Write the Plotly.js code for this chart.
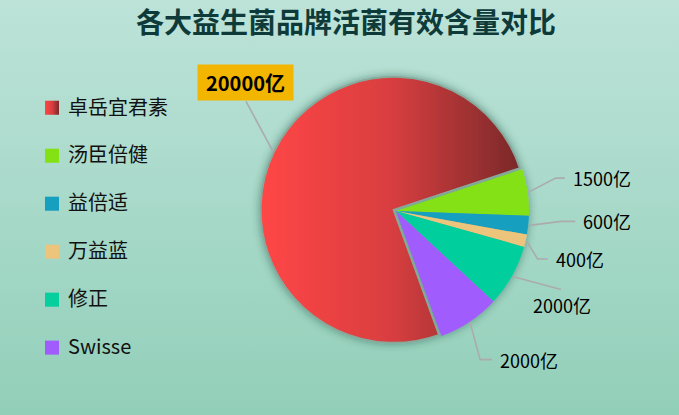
<!DOCTYPE html>
<html><head><meta charset="utf-8">
<script src="https://cdn.plot.ly/plotly-3.0.1.min.js"></script>
<style>
html,body{margin:0;padding:0;}
body{width:679px;height:415px;background:linear-gradient(to bottom,#bde3d9,#92cfb9);overflow:hidden;}
#chart{width:679px;height:415px;}
</style></head><body><div id="chart"></div>
<script>
// ---- data ----
var chartTitle = '各大益生菌品牌活菌有效含量对比';
var brands = ['卓岳宜君素', '汤臣倍健', '益倍适', '万益蓝', '修正', 'Swisse'];
var counts = [20000, 1500, 600, 400, 2000, 2000];
var unit = '亿';
var sliceColors = ['#e23f40', '#84e114', '#169fbf', '#ecc47c', '#04cf9d', '#a05cfd'];

// ---- layout constants (pixels) ----
var W = 679, H = 415;
var cx = 396, cy = 211, R = 133, pullFirst = 0.02, rotation = 160;
var boxHalf = R * (1 + pullFirst);
var FONT = '"Noto Sans CJK SC", "Noto Sans", sans-serif';
// label leader layout relative to slice anchor: bend offset, horizontal run, text placement
var labelLayout = [
  {bend: [-27, -50], h: 0, mode: 'box'},
  {bend: [27, -14], h: 9, mode: 'right'},
  {bend: [32, -4], h: 14, mode: 'right'},
  {bend: [11, 18], h: 10, mode: 'right'},
  {bend: [48, 13], h: 0, mode: 'below'},
  {bend: [10, 37], h: 12, mode: 'right'}
];

function px(x) { return x / W; }
function py(y) { return 1 - y / H; }

var total = counts.reduce(function (a, b) { return a + b; }, 0);
var shapes = [], annotations = [];
var start = rotation;
counts.forEach(function (v, i) {
  var span = v / total * 360;
  var mid = (start + span / 2) * Math.PI / 180;
  start += span;
  var sx = Math.sin(mid), sy = -Math.cos(mid);
  var pull = i === 0 ? pullFirst * R : 0;
  var ax = cx + (R + pull + 1) * sx, ay = cy + (R + pull + 1) * sy;
  var L = labelLayout[i];
  var bx = ax + L.bend[0], by = ay + L.bend[1];
  var ex = bx + L.h, ey = by;
  shapes.push({
    type: 'path', xref: 'paper', yref: 'paper',
    path: 'M' + px(ax) + ',' + py(ay) + ' L' + px(bx) + ',' + py(by) + ' L' + px(ex) + ',' + py(ey),
    line: {color: '#ababab', width: 1.6}
  });
  var txt = v + unit;
  if (L.mode === 'box') {
    annotations.push({
      xref: 'paper', yref: 'paper', x: px(ex - 1), y: py(ey), xanchor: 'center', yanchor: 'bottom',
      text: '<b>' + txt + '</b>', showarrow: false, bgcolor: '#f2b500', borderpad: 3, width: 89,
      font: {family: FONT, size: 20, color: '#000'}
    });
  } else if (L.mode === 'below') {
    annotations.push({
      xref: 'paper', yref: 'paper', x: px(ex + 1), y: py(ey + 16), xanchor: 'center', yanchor: 'middle',
      text: txt, showarrow: false, font: {family: FONT, size: 18, color: '#000'}
    });
  } else {
    annotations.push({
      xref: 'paper', yref: 'paper', x: px(ex + 6), y: py(ey), xanchor: 'left', yanchor: 'middle',
      text: txt, showarrow: false, font: {family: FONT, size: 18, color: '#000'}
    });
  }
});

var legendLabels = brands.map(function (b) {
  return '<span style="font-size:20px">' + b + '</span><br>&nbsp;';
});

var data = [{
  type: 'pie',
  labels: legendLabels,
  values: counts,
  sort: false,
  direction: 'clockwise',
  rotation: rotation,
  pull: counts.map(function (v, i) { return i === 0 ? pullFirst : 0; }),
  marker: {
    colors: sliceColors,
    line: {color: counts.map(function () { return '#86a99b'; }), width: counts.map(function (v, i) { return i === 0 ? 2 : 0; })}
  },
  textinfo: 'none',
  hoverinfo: 'none',
  domain: {x: [px(cx - boxHalf), px(cx + boxHalf)], y: [py(cy + boxHalf), py(cy - boxHalf)]}
}];

var layout = {
  width: W, height: H,
  margin: {l: 0, r: 0, t: 0, b: 0},
  paper_bgcolor: 'rgba(0,0,0,0)',
  plot_bgcolor: 'rgba(0,0,0,0)',
  title: {
    text: chartTitle, x: 346 / W, xref: 'container', xanchor: 'center',
    y: 1 - 23 / H, yref: 'container', yanchor: 'middle',
    font: {family: FONT, size: 28, weight: 'bold', color: '#0e3b3a'}
  },
  showlegend: true,
  legend: {
    x: 28 / W, xanchor: 'left', y: py(90), yanchor: 'top',
    font: {family: FONT, size: 17.3, color: '#111'},
    bgcolor: 'rgba(0,0,0,0)', valign: 'top', traceorder: 'normal'
  },
  shapes: shapes,
  annotations: annotations
};

Plotly.newPlot('chart', data, layout, {staticPlot: true, displayModeBar: false}).then(function (gd) {
  var ns = 'http://www.w3.org/2000/svg';
  var svg = gd.querySelector('svg.main-svg');
  var defs = svg.querySelector('defs') || svg.insertBefore(document.createElementNS(ns, 'defs'), svg.firstChild);
  var lg = document.createElementNS(ns, 'linearGradient');
  lg.setAttribute('id', 'redGrad');
  lg.setAttribute('x1', '0'); lg.setAttribute('y1', '0'); lg.setAttribute('x2', '1'); lg.setAttribute('y2', '0');
  [['0', '#ff4646'], ['0.5', '#d93e40'], ['1', '#7a2929']].forEach(function (s) {
    var st = document.createElementNS(ns, 'stop');
    st.setAttribute('offset', s[0]); st.setAttribute('stop-color', s[1]);
    lg.appendChild(st);
  });
  defs.appendChild(lg);
  var f = document.createElementNS(ns, 'filter');
  f.setAttribute('id', 'pieShadow');
  f.setAttribute('x', '-20%'); f.setAttribute('y', '-20%'); f.setAttribute('width', '140%'); f.setAttribute('height', '140%');
  var ds = document.createElementNS(ns, 'feDropShadow');
  ds.setAttribute('dx', '0'); ds.setAttribute('dy', '0'); ds.setAttribute('stdDeviation', '4');
  ds.setAttribute('flood-color', '#0a3a2e'); ds.setAttribute('flood-opacity', '0.45');
  f.appendChild(ds);
  defs.appendChild(f);
  var slices = gd.querySelectorAll('.pielayer .slice path.surface');
  if (slices[0]) slices[0].style.fill = 'url(#redGrad)';
  var tr = gd.querySelector('.pielayer .trace');
  if (tr) tr.setAttribute('filter', 'url(#pieShadow)');
  var lp = gd.querySelectorAll('.legend .legendpoints path');
  lp.forEach(function (p, i) {
    p.style.strokeWidth = '0';
    p.setAttribute('transform', 'translate(24,0) scale(1.17)');
    if (i === 0) p.style.fill = 'url(#redGrad)';
  });
});
</script>
</body></html>
